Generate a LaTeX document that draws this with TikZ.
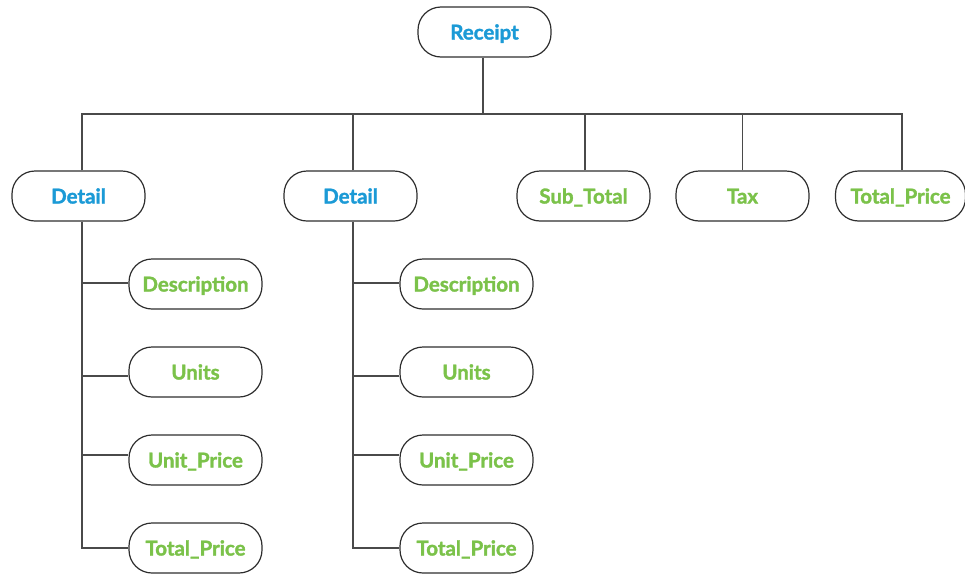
\documentclass[tikz,border=0pt]{standalone}
\usepackage{fontspec}
\setmainfont{Lato}[BoldFeatures={FakeBold=1.6}]
\definecolor{titleblue}{HTML}{1B9AD6}
\definecolor{leafgreen}{HTML}{7BC24A}
\definecolor{edgegray}{HTML}{2E2E2E}
\definecolor{linegray}{HTML}{4A4A4A}
\begin{document}
\begin{tikzpicture}[x=1pt,y=-1pt,
  pill/.style={draw=edgegray,line width=1.2pt,rounded corners=23pt,
    minimum width=133pt,minimum height=50pt,inner sep=0pt,
    text height=15pt,text depth=0pt,
    font=\fontsize{20.5}{24}\selectfont\bfseries},
  bluepill/.style={pill,text=titleblue},
  greenpill/.style={pill,text=leafgreen},
  conn/.style={draw=linegray,line width=1.2pt}]
\useasboundingbox (0,0) rectangle (965,573);
% top
\node[bluepill] (receipt) at (484.5,32) {Receipt};
\node[bluepill] (d1) at (78.5,196) {Detail};
\node[bluepill] (d2) at (350.5,196) {Detail};
\node[greenpill] (sub) at (583.5,196) {Sub\_Total};
\node[greenpill] (tax) at (742.5,196) {Tax};
\node[greenpill,minimum width=130pt] (tp) at (900.5,196) {Total\_Price};
% children of detail 1
\node[greenpill] (a1) at (195.5,284) {Description};
\node[greenpill] (a2) at (195.5,372) {Units};
\node[greenpill] (a3) at (195.5,460) {Unit\_Price};
\node[greenpill] (a4) at (195.5,548) {Total\_Price};
% children of detail 2
\node[greenpill] (b1) at (466.5,284) {Description};
\node[greenpill] (b2) at (466.5,372) {Units};
\node[greenpill] (b3) at (466.5,460) {Unit\_Price};
\node[greenpill] (b4) at (466.5,548) {Total\_Price};
% bus
\coordinate (bus) at (0,114);
\draw[conn] ([xshift=-1.5pt]receipt.south) -- ([xshift=-1.5pt]receipt.south |- bus);
\draw[conn] ([xshift=3.5pt]d1.north) -- ([xshift=3.5pt]d1.north |- bus)
  -- ([xshift=1.5pt]tp.north |- bus) -- ([xshift=1.5pt]tp.north);
\draw[conn] ([xshift=2.5pt]d2.north) -- ([xshift=2.5pt]d2.north |- bus);
\draw[conn] ([xshift=1.5pt]sub.north) -- ([xshift=1.5pt]sub.north |- bus);
\draw[conn] (tax.north) -- (tax.north |- bus);
% detail 1 tree
\draw[conn] ([xshift=3.5pt]d1.south) |- (a4.west);
\draw[conn] ([xshift=3.5pt,yshift=1pt]d1.south |- a1.west) -- ([yshift=1pt]a1.west);
\draw[conn] ([xshift=3.5pt,yshift=-4pt]d1.south |- a2.west) -- ([yshift=-4pt]a2.west);
\draw[conn] ([xshift=3.5pt,yshift=5pt]d1.south |- a3.west) -- ([yshift=5pt]a3.west);
% detail 2 tree
\draw[conn] ([xshift=2.5pt]d2.south) |- (b4.west);
\draw[conn] ([xshift=2.5pt,yshift=1pt]d2.south |- b1.west) -- ([yshift=1pt]b1.west);
\draw[conn] ([xshift=2.5pt,yshift=-4pt]d2.south |- b2.west) -- ([yshift=-4pt]b2.west);
\draw[conn] ([xshift=2.5pt,yshift=5pt]d2.south |- b3.west) -- ([yshift=5pt]b3.west);
\end{tikzpicture}
\end{document}
